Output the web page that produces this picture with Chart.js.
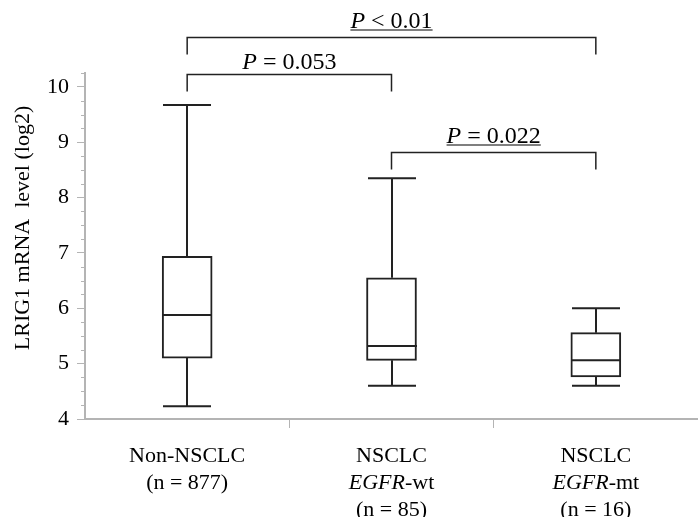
<!DOCTYPE html>
<html><head><meta charset="utf-8">
<script src="https://cdn.jsdelivr.net/npm/chart.js@4.4.1/dist/chart.umd.min.js"></script>
<style>html,body{margin:0;padding:0;background:#fff}#wrap{width:698px;height:517px;position:relative}</style>
</head><body><div id="wrap"><canvas id="c"></canvas></div>
<script>
// ---- data ----
const categories = ['Non-NSCLC', 'NSCLC EGFR-wt', 'NSCLC EGFR-mt'];
// label lines: each segment [text, italic]
const categoryLabelLines = [
  [[['Non-NSCLC', false]], [['(n = 877)', false]]],
  [[['NSCLC', false]], [['EGFR', true], ['-wt', false]], [['(n = 85)', false]]],
  [[['NSCLC', false]], [['EGFR', true], ['-mt', false]], [['(n = 16)', false]]]
];
const minValues    = [4.23, 4.60, 4.60];
const q1Values     = [5.10, 5.06, 4.76];
const medianValues = [5.88, 5.32, 5.06];
const q3Values     = [6.94, 6.55, 5.56];
const maxValues    = [9.67, 8.35, 6.00];
const yMin = 4, yMax = 10.25, yStep = 0.25;
const yTitle = 'LRIG1 mRNA  level (log2)';
// significance brackets
const bracketFrom   = [0, 0, 1];
const bracketTo     = [2, 1, 2];
const bracketLevel  = [10.90, 10.23, 8.82];
const bracketPrefix = ['P', 'P', 'P'];
const bracketText   = [' < 0.01', ' = 0.053', ' = 0.022'];
const bracketUnderline = [true, false, true];

// ---- styles ----
const FONT = "'Liberation Serif','Times New Roman',serif";
const LINE = '#222';
const AXIS = '#b4b4b4';
const CAT_FONT = 22, P_FONT = 24;

const boxPlugin = {
  id: 'boxExtras',
  afterDatasetsDraw(chart) {
    const ctx = chart.ctx, xs = chart.scales.x, ys = chart.scales.y;
    const half = 24;
    ctx.save();
    ctx.strokeStyle = LINE; ctx.lineWidth = 2; ctx.lineCap = 'butt';
    for (let i = 0; i < categories.length; i++) {
      const x = Math.round(xs.getPixelForValue(i));
      const yMaxP = ys.getPixelForValue(maxValues[i]);
      const yQ3 = ys.getPixelForValue(q3Values[i]);
      const yQ1 = ys.getPixelForValue(q1Values[i]);
      const yMinP = ys.getPixelForValue(minValues[i]);
      const yMed = ys.getPixelForValue(medianValues[i]);
      ctx.beginPath();
      ctx.moveTo(x, yMaxP); ctx.lineTo(x, yQ3);
      ctx.moveTo(x, yQ1); ctx.lineTo(x, yMinP);
      ctx.moveTo(x - half, yMaxP); ctx.lineTo(x + half, yMaxP);
      ctx.moveTo(x - half, yMinP); ctx.lineTo(x + half, yMinP);
      ctx.moveTo(x - 25, yMed); ctx.lineTo(x + 25, yMed);
      ctx.stroke();
    }
    ctx.restore();
  },
  afterDraw(chart) {
    const ctx = chart.ctx, xs = chart.scales.x, ys = chart.scales.y;
    ctx.save();
    // minor y ticks
    ctx.strokeStyle = AXIS; ctx.lineWidth = 1;
    ys.ticks.forEach(t => {
      if (!Number.isInteger(t.value)) {
        const y = Math.round(ys.getPixelForValue(t.value)) + 0.5;
        ctx.beginPath(); ctx.moveTo(ys.right - 4, y); ctx.lineTo(ys.right, y); ctx.stroke();
      }
    });
    // y title
    ctx.fillStyle = '#000';
    ctx.font = '22px ' + FONT;
    ctx.textAlign = 'center'; ctx.textBaseline = 'middle';
    ctx.translate(23, 228); ctx.rotate(-Math.PI / 2);
    ctx.fillText(yTitle, 0, 0);
    ctx.setTransform(1, 0, 0, 1, 0, 0);
    // category labels
    const lh = 27;
    const top = xs.top + 37;
    categoryLabelLines.forEach((lines, i) => {
      const cx = xs.getPixelForValue(i);
      lines.forEach((segs, j) => {
        let w = 0;
        segs.forEach(s => { ctx.font = (s[1] ? 'italic ' : '') + CAT_FONT + 'px ' + FONT; w += ctx.measureText(s[0]).width; });
        let x = cx - w / 2;
        ctx.textAlign = 'left'; ctx.textBaseline = 'middle';
        segs.forEach(s => {
          ctx.font = (s[1] ? 'italic ' : '') + CAT_FONT + 'px ' + FONT;
          ctx.fillText(s[0], x, top + j * lh);
          x += ctx.measureText(s[0]).width;
        });
      });
    });
    // brackets
    ctx.strokeStyle = LINE; ctx.lineWidth = 1.5;
    for (let k = 0; k < bracketFrom.length; k++) {
      const x1 = xs.getPixelForValue(bracketFrom[k]);
      const x2 = xs.getPixelForValue(bracketTo[k]);
      const y = Math.round(ys.getPixelForValue(bracketLevel[k])) + 0.5;
      ctx.beginPath();
      ctx.moveTo(x1, y + 17); ctx.lineTo(x1, y); ctx.lineTo(x2, y); ctx.lineTo(x2, y + 17);
      ctx.stroke();
      ctx.font = 'italic ' + P_FONT + 'px ' + FONT;
      const wp = ctx.measureText(bracketPrefix[k]).width;
      ctx.font = P_FONT + 'px ' + FONT;
      const wt = ctx.measureText(bracketText[k]).width;
      const xs0 = (x1 + x2) / 2 - (wp + wt) / 2;
      const base = y - (bracketUnderline[k] ? 10 : 6);
      ctx.fillStyle = '#000'; ctx.textAlign = 'left'; ctx.textBaseline = 'alphabetic';
      ctx.font = 'italic ' + P_FONT + 'px ' + FONT;
      ctx.fillText(bracketPrefix[k], xs0, base);
      ctx.font = P_FONT + 'px ' + FONT;
      ctx.fillText(bracketText[k], xs0 + wp, base);
      if (bracketUnderline[k]) {
        ctx.lineWidth = 1.2; ctx.strokeStyle = '#000';
        ctx.beginPath(); ctx.moveTo(xs0, base + 2.5); ctx.lineTo(xs0 + wp + wt, base + 2.5); ctx.stroke();
        ctx.lineWidth = 1.5; ctx.strokeStyle = LINE;
      }
    }
    ctx.restore();
  }
};

new Chart(document.getElementById('c'), {
  type: 'bar',
  data: {
    labels: categories,
    datasets: [{
      label: 'IQR',
      data: q1Values.map((v, i) => [v, q3Values[i]]),
      backgroundColor: '#ffffff',
      borderColor: LINE,
      borderWidth: 2,
      borderSkipped: false,
      barThickness: 50
    }]
  },
  options: {
    responsive: true,
    maintainAspectRatio: false,
    animation: false,
    layout: { padding: { top: 73, left: 0, right: 0, bottom: 0 } },
    plugins: { legend: { display: false }, tooltip: { enabled: false } },
    scales: {
      x: {
        offset: true,
        grid: {
          offset: true, drawOnChartArea: false, drawTicks: true, tickLength: 9, tickWidth: 1,
          tickColor: c => (c.index === 1 || c.index === 2) ? AXIS : 'rgba(0,0,0,0)'
        },
        border: { display: true, color: AXIS, width: 2 },
        ticks: { display: false },
        afterFit: s => { s.height = 98; }
      },
      y: {
        min: yMin, max: yMax,
        grid: {
          drawOnChartArea: false, drawTicks: true, tickLength: 8,
          tickColor: c => (c.tick && Number.isInteger(c.tick.value)) ? AXIS : 'rgba(0,0,0,0)'
        },
        border: { display: true, color: AXIS, width: 2 },
        ticks: {
          stepSize: yStep, autoSkip: false, padding: 8, color: '#000',
          font: { family: FONT, size: 22 },
          callback: v => Number.isInteger(v) ? String(v) : ''
        },
        afterFit: s => { s.width = 85; }
      }
    }
  },
  plugins: [boxPlugin]
});
</script>
</body></html>
